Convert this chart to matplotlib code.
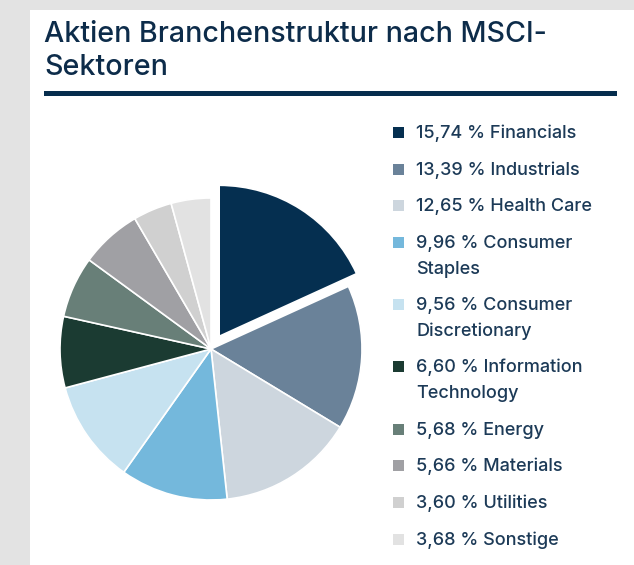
import matplotlib
matplotlib.use("Agg")
import matplotlib.pyplot as plt
from matplotlib.patches import Rectangle

sectors = ["Financials", "Industrials", "Health Care", "Consumer\nStaples",
           "Consumer\nDiscretionary", "Information\nTechnology", "Energy",
           "Materials", "Utilities", "Sonstige"]
values = [15.74, 13.39, 12.65, 9.96, 9.56, 6.60, 5.68, 5.66, 3.60, 3.68]
colors = ["#052f50", "#6a8299", "#cdd6de", "#74b8dc", "#c6e2f0",
          "#1b3b32", "#687f78", "#a0a0a4", "#d0d0d0", "#e2e2e2"]
title_lines = ["Aktien Branchenstruktur nach MSCI-", "Sektoren"]

W, H = 634, 565
fig = plt.figure(figsize=(W / 100, H / 100), dpi=100)
fig.patch.set_facecolor("#e3e3e3")

# white card
fig.patches.append(Rectangle((30 / W, 0), (W - 30) / W, (H - 10) / H,
                             transform=fig.transFigure, facecolor="white",
                             edgecolor="none", zorder=-5))

navy = "#0d2c4a"
fig.text(44 / W, 1 - 42 / H, title_lines[0], fontsize=20.6, family="Inter",
         fontweight="medium", color=navy, va="baseline", ha="left")
fig.text(44 / W, 1 - 75 / H, title_lines[1], fontsize=20.6, family="Inter",
         fontweight="medium", color=navy, va="baseline", ha="left")
fig.patches.append(Rectangle((44 / W, 1 - 96 / H), (617 - 44) / W, 5 / H,
                             transform=fig.transFigure, facecolor="#062d4d",
                             edgecolor="none", zorder=1))

# pie
cx, cy, r = 211, 349, 151
ax = fig.add_axes([(cx - r) / W, (H - cy - r) / H, 2 * r / W, 2 * r / H])
ax.set_zorder(2)
explode = [0.1] + [0] * (len(values) - 1)
wedges, _ = ax.pie(values, colors=colors, startangle=90, counterclock=False,
                   explode=explode, radius=1,
                   wedgeprops=dict(edgecolor="white", linewidth=1.2))
for w in wedges:
    w.set_clip_on(False)
ax.set_xlim(-1, 1)
ax.set_ylim(-1, 1)
ax.set_aspect("equal")
ax.axis("off")

# legend
y = 132
for s, v, c in zip(sectors, values, colors):
    fig.patches.append(Rectangle((393 / W, 1 - (y + 6) / H), 11 / W, 11 / H,
                                 transform=fig.transFigure, facecolor=c,
                                 edgecolor="none"))
    lines = s.split("\n")
    lines[0] = f"{v:.2f}".replace(".", ",") + " % " + lines[0]
    for i, ln in enumerate(lines):
        fig.text(416 / W, 1 - (y + 6 + i * 25.5) / H, ln, fontsize=13,
                 family="Inter", fontweight="medium", color="#1c3a57",
                 va="baseline", ha="left")
    y += 36.7 + (len(lines) - 1) * 25.5

fig.savefig("out.png", dpi=100, facecolor=fig.get_facecolor())
